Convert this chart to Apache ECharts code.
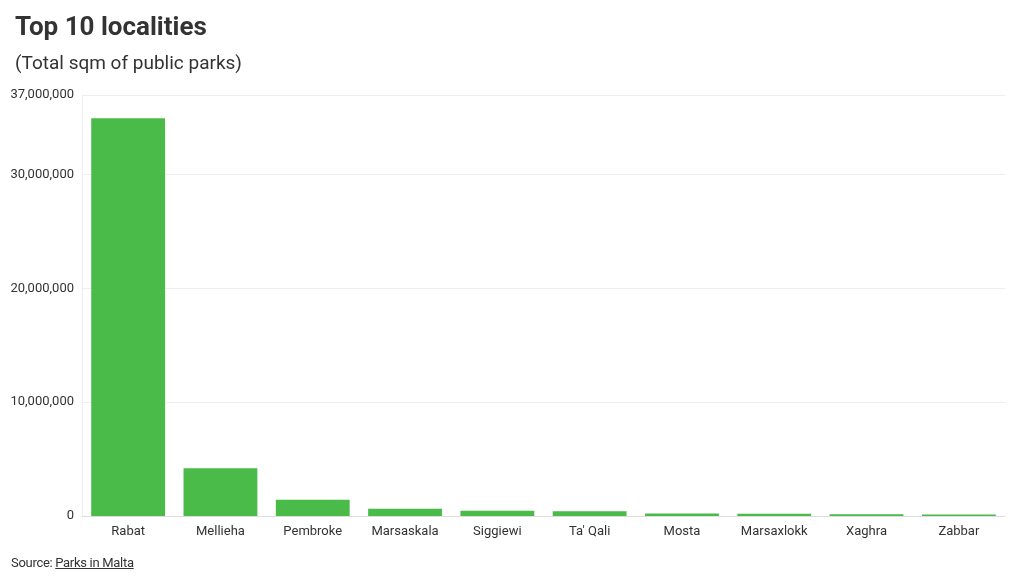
<!DOCTYPE html><html><head><meta charset="utf-8"><script src="https://cdn.jsdelivr.net/npm/echarts@6/dist/echarts.min.js"></script>
<style>body{margin:0;background:#fff}#c{width:1020px;height:581px}
#src{position:absolute;left:11px;top:555px;font:13px Roboto,sans-serif;color:#333;letter-spacing:-0.3px}</style></head><body>
<div id="c"></div><div id="src">Source: <u>Parks in Malta</u></div>
<script>
const categories=["Rabat","Mellieha","Pembroke","Marsaskala","Siggiewi","Ta' Qali","Mosta","Marsaxlokk","Xaghra","Zabbar"];
const values=[34950000,4200000,1420000,640000,470000,410000,230000,200000,150000,140000];
const c=echarts.init(document.getElementById('c'));
c.setOption({
 title:[{text:'Top 10 localities',left:10,top:10,textStyle:{fontFamily:'Roboto',fontSize:26,fontWeight:'bold',color:'#333'}},
 {text:'(Total sqm of public parks)',left:10,top:50,textStyle:{fontFamily:'Roboto',fontSize:19,fontWeight:'normal',color:'#333'}}],
 grid:{left:82,right:15,top:95,bottom:65},
 xAxis:{type:'category',data:categories,axisTick:{show:false},axisLine:{lineStyle:{color:'#ddd'}},
  axisLabel:{fontFamily:'Roboto',fontSize:13,color:'#333',margin:9}},
 yAxis:{type:'value',min:0,max:37000000,interval:10000000,axisLine:{show:true,lineStyle:{color:'#eee'}},
  splitLine:{lineStyle:{color:'#eee'}},axisLabel:{fontFamily:'Roboto',fontSize:13,color:'#333',formatter:v=>v.toLocaleString('en-US')}},
 series:[{type:'bar',data:values,barCategoryGap:'20%',itemStyle:{color:'#4aba48'}}]
});
</script></body></html>
